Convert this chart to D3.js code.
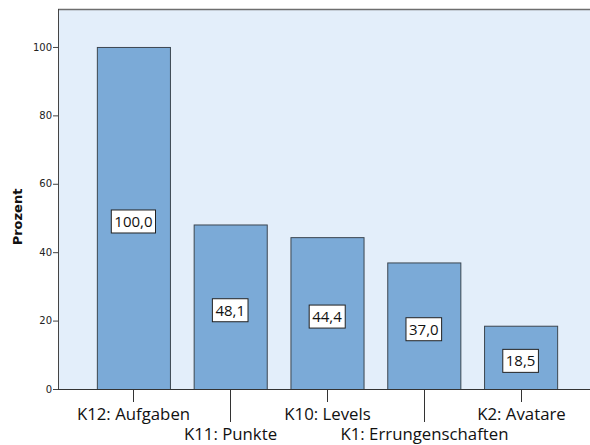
<!DOCTYPE html>
<html><head><meta charset="utf-8">
<script src="https://cdn.jsdelivr.net/npm/d3@7"></script>
<style>body{margin:0;background:#fff}svg{display:block}</style>
</head><body>
<svg id="c" width="590" height="445"></svg>
<script>
const categories = ["K12: Aufgaben","K11: Punkte","K10: Levels","K1: Errungenschaften","K2: Avatare"];
const values = [100.0, 48.1, 44.4, 37.0, 18.5];
const yTicks = [0,20,40,60,80,100];
const yTitle = "Prozent";

const svg = d3.select("#c");
const m = {l:58, t:9, r:596, b:389};
const x = d3.scaleBand().domain(categories).range([85, 569]).paddingInner(0.245).paddingOuter(0.1225);
const y = d3.scaleLinear().domain([0, 111.1]).range([m.b, m.t]);

svg.append("rect").attr("x", m.l).attr("y", m.t).attr("width", m.r - m.l).attr("height", m.b - m.t)
  .attr("fill", "#e3eefa").attr("stroke", "none");
svg.append("line").attr("x1", m.l).attr("x2", m.r).attr("y1", m.t+0.5).attr("y2", m.t+0.5).attr("stroke", "#6e6e6e").attr("stroke-width", 1.5);

const bw = x.bandwidth();
const fmt = v => v.toFixed(1).replace(".", ",");

svg.selectAll(".bar").data(values).join("rect")
  .attr("x", (d,i) => x(categories[i]) + 0.5)
  .attr("y", d => y(d) + 0.5)
  .attr("width", bw)
  .attr("height", d => m.b - y(d))
  .attr("fill", "#7baad7").attr("stroke", "#3c4650").attr("stroke-width", 1);

// value labels
const lab = svg.selectAll(".lab").data(values).join("g")
  .attr("transform", (d,i) => `translate(${x(categories[i]) + bw/2},${(y(d) + m.b)/2 + 3.5})`);
lab.append("text").text(d => fmt(d))
  .attr("text-anchor", "middle").attr("dy", "0.36em")
  .attr("font-family", "'Open Sans', sans-serif").attr("font-size", 15).attr("fill", "#111")
  .each(function(){
    const bb = this.getBBox();
    d3.select(this.parentNode).insert("rect", "text")
      .attr("x", bb.x - 3).attr("y", -11.5).attr("width", bb.width + 6).attr("height", 23)
      .attr("fill", "#fff").attr("stroke", "#222").attr("stroke-width", 1);
  });

// y axis
const ya = svg.append("g").attr("transform", `translate(${m.l},0)`)
  .call(d3.axisLeft(y).tickValues(yTicks).tickSize(5).tickFormat(d3.format("d")));
ya.select(".domain").attr("stroke", "#444").attr("d", `M0.5,${m.t}V${m.b}`);
ya.selectAll(".tick line").attr("stroke", "#444");
ya.selectAll(".tick text").attr("font-family", "'DejaVu Sans', sans-serif").attr("font-size", 10).attr("fill", "#222").attr("x", -6);

svg.append("text").text(yTitle)
  .attr("transform", `translate(22,${(m.t+m.b)/2 + 18}) rotate(-90)`)
  .attr("text-anchor", "middle").attr("font-family", "'DejaVu Sans', sans-serif").attr("font-weight", "bold").attr("font-size", 13).attr("fill", "#111");

// x axis
svg.append("line").attr("x1", m.l).attr("x2", m.r).attr("y1", m.b + 0.5).attr("y2", m.b + 0.5).attr("stroke", "#333");
const xg = svg.selectAll(".xt").data(categories).join("g")
  .attr("transform", d => `translate(${Math.round(x(d) + bw/2) + 0.5},${m.b})`);
xg.append("line").attr("y1", 0).attr("y2", (d,i) => i % 2 ? 33 : 13).attr("stroke", "#333");
xg.append("text").text(d => d)
  .attr("text-anchor", "middle").attr("y", (d,i) => i % 2 ? 50.5 : 30.5)
  .attr("font-family", "'Open Sans', sans-serif").attr("font-size", 16.8).attr("fill", "#111");
</script>
</body></html>
